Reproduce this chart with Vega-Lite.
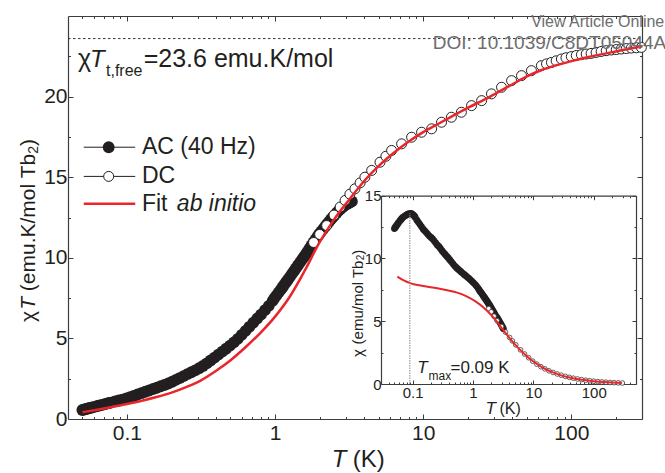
{
"$schema":"https://vega.github.io/schema/vega-lite/v6.json",
"width":574,"height":403,
"autosize":{"type":"none"},
"padding":{"left":68,"top":16,"right":23,"bottom":54},
"background":"white",
"config":{"view":{"stroke":null},"font":"Liberation Sans",
 "axis":{"grid":false,"domainColor":"#3c3c3c","tickColor":"#3c3c3c","domainWidth":1.2,"tickWidth":1,"labelColor":"#231f20","labelFont":"Liberation Sans","title":null}},
"datasets":{
"ac":[{"T":0.050,"v":0.56},{"T":0.0515,"v":0.59},{"T":0.053,"v":0.62},{"T":0.0545,"v":0.65},{"T":0.056,"v":0.68},{"T":0.0575,"v":0.71},{"T":0.059,"v":0.73},{"T":0.062,"v":0.78},{"T":0.064,"v":0.82},{"T":0.066,"v":0.85},{"T":0.068,"v":0.88},{"T":0.070,"v":0.91},{"T":0.072,"v":0.94},{"T":0.074,"v":0.97},{"T":0.076,"v":1.0},{"T":0.078,"v":1.02},{"T":0.083,"v":1.09},{"T":0.088,"v":1.15},{"T":0.093,"v":1.20},{"T":0.099,"v":1.27},{"T":0.105,"v":1.35},{"T":0.111,"v":1.43},{"T":0.118,"v":1.52},{"T":0.125,"v":1.60},{"T":0.133,"v":1.69},{"T":0.141,"v":1.77},{"T":0.150,"v":1.86},{"T":0.159,"v":1.94},{"T":0.169,"v":2.03},{"T":0.179,"v":2.11},{"T":0.190,"v":2.20},{"T":0.202,"v":2.31},{"T":0.214,"v":2.43},{"T":0.227,"v":2.54},{"T":0.241,"v":2.66},{"T":0.256,"v":2.78},{"T":0.272,"v":2.90},{"T":0.289,"v":3.02},{"T":0.307,"v":3.15},{"T":0.326,"v":3.29},{"T":0.346,"v":3.45},{"T":0.367,"v":3.63},{"T":0.390,"v":3.81},{"T":0.414,"v":3.99},{"T":0.440,"v":4.18},{"T":0.467,"v":4.36},{"T":0.496,"v":4.55},{"T":0.527,"v":4.75},{"T":0.560,"v":4.97},{"T":0.595,"v":5.22},{"T":0.632,"v":5.47},{"T":0.671,"v":5.72},{"T":0.713,"v":5.98},{"T":0.757,"v":6.23},{"T":0.804,"v":6.48},{"T":0.854,"v":6.75},{"T":0.907,"v":7.02},{"T":0.963,"v":7.33},{"T":0.99,"v":7.5},{"T":1.02,"v":7.65},{"T":1.055,"v":7.84},{"T":1.09,"v":8.01},{"T":1.12,"v":8.16},{"T":1.15,"v":8.31},{"T":1.185,"v":8.48},{"T":1.22,"v":8.64},{"T":1.26,"v":8.82},{"T":1.30,"v":9.00},{"T":1.34,"v":9.17},{"T":1.38,"v":9.34},{"T":1.425,"v":9.52},{"T":1.47,"v":9.70},{"T":1.515,"v":9.87},{"T":1.56,"v":10.04},{"T":1.605,"v":10.2},{"T":1.65,"v":10.37},{"T":1.705,"v":10.57},{"T":1.76,"v":10.77},{"T":1.815,"v":10.95},{"T":1.87,"v":11.13},{"T":1.925,"v":11.3},{"T":1.98,"v":11.46},{"T":2.045,"v":11.62},{"T":2.11,"v":11.78},{"T":2.175,"v":11.93},{"T":2.24,"v":12.08},{"T":2.31,"v":12.23},{"T":2.38,"v":12.38},{"T":2.45,"v":12.52},{"T":2.52,"v":12.65},{"T":2.6,"v":12.78},{"T":2.68,"v":12.91},{"T":2.76,"v":13.02},{"T":2.85,"v":13.13},{"T":2.93,"v":13.22},{"T":3.02,"v":13.31},{"T":3.1,"v":13.37},{"T":3.2,"v":13.43},{"T":3.3,"v":13.5}],
"dc":[{"T":1.82,"v":10.95},{"T":2.0,"v":11.45},{"T":2.23,"v":12.0},{"T":2.5,"v":12.65},{"T":2.75,"v":13.15},{"T":2.97,"v":13.56},{"T":3.2,"v":13.95},{"T":3.46,"v":14.28},{"T":3.75,"v":14.65},{"T":4.04,"v":15.0},{"T":4.49,"v":15.42},{"T":5.11,"v":15.93},{"T":5.6,"v":16.3},{"T":6.12,"v":16.66},{"T":7.15,"v":17.07},{"T":8.35,"v":17.48},{"T":9.75,"v":17.79},{"T":11.4,"v":18.0},{"T":13.3,"v":18.41},{"T":15.5,"v":18.72},{"T":18.1,"v":19.03},{"T":21.2,"v":19.44},{"T":24.8,"v":19.75},{"T":28.9,"v":20.17},{"T":33.8,"v":20.58},{"T":39.5,"v":20.99},{"T":46.1,"v":21.3},{"T":53.8,"v":21.61},{"T":62.8,"v":21.92},{"T":68,"v":22.03},{"T":73.4,"v":22.12},{"T":79,"v":22.22},{"T":85.7,"v":22.33},{"T":92,"v":22.41},{"T":100,"v":22.48},{"T":108,"v":22.55},{"T":117,"v":22.6},{"T":126,"v":22.64},{"T":136,"v":22.68},{"T":147,"v":22.74},{"T":159,"v":22.8},{"T":172,"v":22.85},{"T":186,"v":22.89},{"T":201,"v":22.92},{"T":217,"v":22.95},{"T":235,"v":22.98},{"T":254,"v":23.01},{"T":275,"v":23.03},{"T":297,"v":23.05}],
"fit":[{"T":0.0501,"v":0.42},{"T":0.0631,"v":0.58},{"T":0.0794,"v":0.75},{"T":0.1,"v":0.93},{"T":0.126,"v":1.13},{"T":0.158,"v":1.36},{"T":0.2,"v":1.64},{"T":0.251,"v":1.98},{"T":0.316,"v":2.4},{"T":0.398,"v":2.98},{"T":0.501,"v":3.65},{"T":0.631,"v":4.45},{"T":0.794,"v":5.33},{"T":1.0,"v":6.35},{"T":1.259,"v":7.6},{"T":1.585,"v":9.2},{"T":1.995,"v":10.95},{"T":2.512,"v":12.4},{"T":3.162,"v":13.6},{"T":3.981,"v":14.75},{"T":5.012,"v":15.7},{"T":6.31,"v":16.5},{"T":7.943,"v":17.2},{"T":10,"v":17.8},{"T":12.59,"v":18.3},{"T":15.85,"v":18.8},{"T":19.95,"v":19.3},{"T":25.12,"v":19.75},{"T":31.62,"v":20.25},{"T":39.81,"v":20.75},{"T":50.12,"v":21.25},{"T":63.1,"v":21.65},{"T":79.43,"v":21.95},{"T":100,"v":22.2},{"T":125.9,"v":22.42},{"T":158.5,"v":22.62},{"T":199.5,"v":22.8},{"T":251.2,"v":22.98},{"T":302,"v":23.12}],
"iac":[{"T":0.050,"v":12.38},{"T":0.0515,"v":12.47},{"T":0.053,"v":12.55},{"T":0.0545,"v":12.64},{"T":0.056,"v":12.72},{"T":0.0575,"v":12.8},{"T":0.059,"v":12.88},{"T":0.062,"v":13.01},{"T":0.064,"v":13.09},{"T":0.066,"v":13.17},{"T":0.068,"v":13.24},{"T":0.070,"v":13.30},{"T":0.074,"v":13.38},{"T":0.078,"v":13.45},{"T":0.083,"v":13.53},{"T":0.088,"v":13.58},{"T":0.093,"v":13.6},{"T":0.096,"v":13.57},{"T":0.099,"v":13.52},{"T":0.102,"v":13.48},{"T":0.105,"v":13.42},{"T":0.108,"v":13.35},{"T":0.111,"v":13.27},{"T":0.118,"v":13.05},{"T":0.125,"v":12.88},{"T":0.133,"v":12.70},{"T":0.141,"v":12.52},{"T":0.150,"v":12.33},{"T":0.159,"v":12.20},{"T":0.169,"v":12.06},{"T":0.179,"v":11.92},{"T":0.190,"v":11.79},{"T":0.202,"v":11.68},{"T":0.214,"v":11.57},{"T":0.227,"v":11.41},{"T":0.241,"v":11.25},{"T":0.256,"v":11.08},{"T":0.272,"v":10.96},{"T":0.289,"v":10.8},{"T":0.307,"v":10.62},{"T":0.326,"v":10.46},{"T":0.346,"v":10.32},{"T":0.367,"v":10.18},{"T":0.390,"v":10.04},{"T":0.414,"v":9.88},{"T":0.440,"v":9.73},{"T":0.467,"v":9.57},{"T":0.496,"v":9.42},{"T":0.527,"v":9.29},{"T":0.560,"v":9.17},{"T":0.595,"v":9.06},{"T":0.632,"v":8.95},{"T":0.671,"v":8.84},{"T":0.713,"v":8.73},{"T":0.757,"v":8.63},{"T":0.804,"v":8.52},{"T":0.854,"v":8.42},{"T":0.907,"v":8.30},{"T":0.963,"v":8.18},{"T":1.02,"v":8.06},{"T":1.09,"v":7.92},{"T":1.15,"v":7.78},{"T":1.22,"v":7.62},{"T":1.26,"v":7.5},{"T":1.30,"v":7.4},{"T":1.34,"v":7.32},{"T":1.38,"v":7.24},{"T":1.425,"v":7.14},{"T":1.47,"v":7.05},{"T":1.515,"v":6.96},{"T":1.56,"v":6.88},{"T":1.605,"v":6.79},{"T":1.65,"v":6.7},{"T":1.705,"v":6.6},{"T":1.76,"v":6.5},{"T":1.815,"v":6.4},{"T":1.87,"v":6.3},{"T":1.925,"v":6.2},{"T":1.98,"v":6.1},{"T":2.045,"v":5.99},{"T":2.11,"v":5.88},{"T":2.175,"v":5.77},{"T":2.24,"v":5.66},{"T":2.31,"v":5.54},{"T":2.38,"v":5.42},{"T":2.45,"v":5.34},{"T":2.52,"v":5.26},{"T":2.6,"v":5.16},{"T":2.68,"v":5.06},{"T":2.76,"v":4.95},{"T":2.85,"v":4.84},{"T":2.93,"v":4.73},{"T":3.02,"v":4.62},{"T":3.1,"v":4.51},{"T":3.2,"v":4.4}],
"idc":[{"T":1.82,"v":6.0},{"T":2.0,"v":5.75},{"T":2.23,"v":5.4},{"T":2.5,"v":5.05},{"T":2.97,"v":4.57},{"T":3.46,"v":4.13},{"T":4.04,"v":3.71},{"T":4.49,"v":3.43},{"T":5.11,"v":3.12},{"T":6.12,"v":2.72},{"T":7.15,"v":2.39},{"T":8.35,"v":2.09},{"T":9.75,"v":1.82},{"T":11.4,"v":1.58},{"T":13.3,"v":1.38},{"T":15.5,"v":1.21},{"T":18.1,"v":1.05},{"T":21.2,"v":0.92},{"T":24.8,"v":0.80},{"T":28.9,"v":0.70},{"T":33.8,"v":0.61},{"T":39.5,"v":0.53},{"T":46.1,"v":0.46},{"T":53.8,"v":0.40},{"T":62.8,"v":0.35},{"T":73.4,"v":0.30},{"T":85.7,"v":0.26},{"T":100,"v":0.225},{"T":117,"v":0.193},{"T":136,"v":0.167},{"T":159,"v":0.143},{"T":186,"v":0.123},{"T":217,"v":0.106},{"T":254,"v":0.091},{"T":297,"v":0.078}],
"ifit":[{"T":0.056,"v":8.55},{"T":0.07,"v":8.27},{"T":0.093,"v":8.02},{"T":0.15,"v":7.8},{"T":0.256,"v":7.63},{"T":0.375,"v":7.47},{"T":0.548,"v":7.28},{"T":0.8,"v":6.96},{"T":1.1,"v":6.58},{"T":1.51,"v":6.08},{"T":2.0,"v":5.5},{"T":2.51,"v":4.95},{"T":3.2,"v":4.27},{"T":4.17,"v":3.58},{"T":5.7,"v":2.84},{"T":7.87,"v":2.2},{"T":10,"v":1.79},{"T":14.8,"v":1.26},{"T":20,"v":0.96},{"T":27.9,"v":0.71},{"T":40,"v":0.51},{"T":52.7,"v":0.40},{"T":75,"v":0.29},{"T":99,"v":0.224},{"T":150,"v":0.15},{"T":200,"v":0.114},{"T":292,"v":0.079}]
},
"layer":[
{"data":{"name":"ac"},
 "mark":{"type":"point","shape":"circle","filled":true,"color":"#231f20","size":140,"opacity":1},
 "encoding":{
  "x":{"field":"T","type":"quantitative","scale":{"type":"log","domain":[0.04,300],"nice":false},
   "axis":{"orient":"bottom","values":[0.05,0.06,0.07,0.08,0.09,0.1,0.2,0.3,0.4,0.5,0.6,0.7,0.8,0.9,1,2,3,4,5,6,7,8,9,10,20,30,40,50,60,70,80,90,100,200],
    "labelExpr":"datum.value==0.1?'0.1':datum.value==1?'1':datum.value==10?'10':datum.value==100?'100':''",
    "tickSize":{"condition":{"test":"datum.value==0.1||datum.value==1||datum.value==10||datum.value==100","value":-5},"value":-2.5},
    "labelFontSize":21,"labelPadding":8,"labelOverlap":false,"labelFlush":false,"labelBound":false}},
  "y":{"field":"v","type":"quantitative","scale":{"domain":[0,25],"nice":false},
   "axis":{"orient":"left","values":[0,2.5,5,7.5,10,12.5,15,17.5,20,22.5],
    "labelExpr":"datum.value%5==0?datum.label:''",
    "tickSize":{"condition":{"test":"datum.value%5==0","value":-5},"value":-2.5},
    "labelFontSize":21,"labelPadding":6,"labelOverlap":false,"labelFlush":false,"labelBound":false}}}},
{"data":{"name":"dc"},
 "mark":{"type":"point","shape":"circle","filled":true,"fill":"white","stroke":"#231f20","strokeWidth":1,"size":100,"opacity":1},
 "encoding":{
  "x":{"field":"T","type":"quantitative","scale":{"type":"log","domain":[0.04,300],"nice":false},
   "axis":{"orient":"top","labels":false,"values":[0.05,0.06,0.07,0.08,0.09,0.1,0.2,0.3,0.4,0.5,0.6,0.7,0.8,0.9,1,2,3,4,5,6,7,8,9,10,20,30,40,50,60,70,80,90,100,200],
    "tickSize":{"condition":{"test":"datum.value==0.1||datum.value==1||datum.value==10||datum.value==100","value":-5},"value":-2.5}}},
  "y":{"field":"v","type":"quantitative","scale":{"domain":[0,25],"nice":false},
   "axis":{"orient":"right","labels":false,"values":[0,2.5,5,7.5,10,12.5,15,17.5,20,22.5],
    "tickSize":{"condition":{"test":"datum.value%5==0","value":-5},"value":-2.5}}}}},
{"data":{"name":"fit"},
 "mark":{"type":"line","color":"#e8262b","strokeWidth":2.5,"interpolate":"monotone"},
 "encoding":{
  "x":{"field":"T","type":"quantitative","scale":{"type":"log","domain":[0.04,300],"nice":false},"axis":null},
  "y":{"field":"v","type":"quantitative","scale":{"domain":[0,25],"nice":false},"axis":null}}},
{"data":{"values":[{"T":0.04,"v":23.6},{"T":300,"v":23.6}]},
 "mark":{"type":"line","color":"#333333","strokeWidth":1,"strokeDash":[2.5,2.5]},
 "encoding":{
  "x":{"field":"T","type":"quantitative","scale":{"type":"log","domain":[0.04,300],"nice":false},"axis":null},
  "y":{"field":"v","type":"quantitative","scale":{"domain":[0,25],"nice":false},"axis":null}}},
{"data":{"name":"iac"},
 "mark":{"type":"point","shape":"circle","filled":true,"color":"#231f20","size":45,"opacity":1},
 "encoding":{
  "x":{"field":"T","type":"quantitative","scale":{"type":"log","domain":[0.03,500],"nice":false,"range":[313,568]},
   "axis":{"orient":"bottom","offset":-35,"values":[0.04,0.05,0.06,0.07,0.08,0.09,0.1,0.2,0.3,0.4,0.5,0.6,0.7,0.8,0.9,1,2,3,4,5,6,7,8,9,10,20,30,40,50,60,70,80,90,100,200,300,400],
    "labelExpr":"datum.value==0.1?'0.1':datum.value==1?'1':datum.value==10?'10':datum.value==100?'100':''",
    "tickSize":{"condition":{"test":"datum.value==0.1||datum.value==1||datum.value==10||datum.value==100","value":-4},"value":-2},
    "labelFontSize":15,"labelPadding":5,"labelOverlap":false,"labelFlush":false,"labelBound":false}},
  "y":{"field":"v","type":"quantitative","scale":{"domain":[0,15],"nice":false,"range":[368,179.7]},
   "axis":{"orient":"left","offset":-313,"values":[0,2.5,5,7.5,10,12.5,15],
    "labelExpr":"datum.value%5==0?datum.label:''",
    "tickSize":{"condition":{"test":"datum.value%5==0","value":-4},"value":-2},
    "labelFontSize":15,"labelPadding":4,"labelOverlap":false,"labelFlush":false,"labelBound":false}}}},
{"data":{"name":"idc"},
 "mark":{"type":"point","shape":"circle","filled":true,"fill":"white","stroke":"#3a3a3a","strokeWidth":0.8,"size":22,"opacity":1},
 "encoding":{
  "x":{"field":"T","type":"quantitative","scale":{"type":"log","domain":[0.03,500],"nice":false,"range":[313,568]},
   "axis":{"orient":"top","offset":-179.7,"labels":false,"values":[0.04,0.05,0.06,0.07,0.08,0.09,0.1,0.2,0.3,0.4,0.5,0.6,0.7,0.8,0.9,1,2,3,4,5,6,7,8,9,10,20,30,40,50,60,70,80,90,100,200,300,400],
    "tickSize":{"condition":{"test":"datum.value==0.1||datum.value==1||datum.value==10||datum.value==100","value":-4},"value":-2}}},
  "y":{"field":"v","type":"quantitative","scale":{"domain":[0,15],"nice":false,"range":[368,179.7]},
   "axis":{"orient":"right","offset":-6,"labels":false,"values":[0,2.5,5,7.5,10,12.5,15],
    "tickSize":{"condition":{"test":"datum.value%5==0","value":-4},"value":-2}}}}},
{"data":{"name":"ifit"},
 "mark":{"type":"line","color":"#e8262b","strokeWidth":2,"interpolate":"monotone"},
 "encoding":{
  "x":{"field":"T","type":"quantitative","scale":{"type":"log","domain":[0.03,500],"nice":false,"range":[313,568]},"axis":null},
  "y":{"field":"v","type":"quantitative","scale":{"domain":[0,15],"nice":false,"range":[368,179.7]},"axis":null}}},
{"data":{"values":[{"T":0.09,"v":0},{"T":0.09,"v":13.6}]},
 "mark":{"type":"line","color":"#888888","strokeWidth":1,"strokeDash":[1.5,1]},
 "encoding":{
  "x":{"field":"T","type":"quantitative","scale":{"type":"log","domain":[0.03,500],"nice":false,"range":[313,568]},"axis":null},
  "y":{"field":"v","type":"quantitative","scale":{"domain":[0,15],"nice":false,"range":[368,179.7]},"axis":null}}},
{"data":{"values":[{"T":0.0511,"v":16.86,"k":"AC"},{"T":0.1137,"v":16.86,"k":"AC"},{"T":0.0511,"v":15.05,"k":"DC"},{"T":0.1137,"v":15.05,"k":"DC"}]},
 "mark":{"type":"line","color":"#231f20","strokeWidth":1},
 "encoding":{
  "detail":{"field":"k"},
  "x":{"field":"T","type":"quantitative","scale":{"type":"log","domain":[0.04,300],"nice":false},"axis":null},
  "y":{"field":"v","type":"quantitative","scale":{"domain":[0,25],"nice":false},"axis":null}}},
{"data":{"values":[{"T":0.0511,"v":13.36},{"T":0.1137,"v":13.36}]},
 "mark":{"type":"line","color":"#e8262b","strokeWidth":2.5},
 "encoding":{
  "x":{"field":"T","type":"quantitative","scale":{"type":"log","domain":[0.04,300],"nice":false},"axis":null},
  "y":{"field":"v","type":"quantitative","scale":{"domain":[0,25],"nice":false},"axis":null}}},
{"data":{"values":[{"T":0.0753,"v":16.86}]},
 "mark":{"type":"point","shape":"circle","filled":true,"color":"#231f20","size":140,"opacity":1},
 "encoding":{
  "x":{"field":"T","type":"quantitative","scale":{"type":"log","domain":[0.04,300],"nice":false},"axis":null},
  "y":{"field":"v","type":"quantitative","scale":{"domain":[0,25],"nice":false},"axis":null}}},
{"data":{"values":[{"T":0.0753,"v":15.05}]},
 "mark":{"type":"point","shape":"circle","filled":true,"fill":"white","stroke":"#231f20","strokeWidth":1,"size":100,"opacity":1},
 "encoding":{
  "x":{"field":"T","type":"quantitative","scale":{"type":"log","domain":[0.04,300],"nice":false},"axis":null},
  "y":{"field":"v","type":"quantitative","scale":{"domain":[0,25],"nice":false},"axis":null}}},
{"data":{"values":[{"T":0.0468,"v":21.81,"t":"χ"},{"T":0.1297,"v":21.81,"t":"=23.6 emu.K/mol"}]},
 "mark":{"type":"text","align":"left","baseline":"alphabetic","fontSize":25,"color":"#231f20"},
 "encoding":{"text":{"field":"t"},
  "x":{"field":"T","type":"quantitative","scale":{"type":"log","domain":[0.04,300],"nice":false},"axis":null},
  "y":{"field":"v","type":"quantitative","scale":{"domain":[0,25],"nice":false},"axis":null}}},
{"data":{"values":[{"T":3.34,"v":-2.95,"t":"(K)"}]},
 "mark":{"type":"text","align":"left","baseline":"alphabetic","fontSize":24,"color":"#231f20"},
 "encoding":{"text":{"field":"t"},
  "x":{"field":"T","type":"quantitative","scale":{"type":"log","domain":[0.04,300],"nice":false},"axis":null},
  "y":{"field":"v","type":"quantitative","scale":{"domain":[0,25],"nice":false},"axis":null}}},
{"data":{"values":[{"T":0.0563,"v":21.81,"t":"T"},{"T":2.41,"v":-2.95,"t":"T"}]},
 "mark":{"type":"text","align":"left","baseline":"alphabetic","fontSize":24,"fontStyle":"italic","color":"#231f20"},
 "encoding":{"text":{"field":"t"},
  "x":{"field":"T","type":"quantitative","scale":{"type":"log","domain":[0.04,300],"nice":false},"axis":null},
  "y":{"field":"v","type":"quantitative","scale":{"domain":[0,25],"nice":false},"axis":null}}},
{"data":{"values":[{"T":0.0722,"v":21.3,"t":"t,free"}]},
 "mark":{"type":"text","align":"left","baseline":"alphabetic","fontSize":16,"color":"#231f20"},
 "encoding":{"text":{"field":"t"},
  "x":{"field":"T","type":"quantitative","scale":{"type":"log","domain":[0.04,300],"nice":false},"axis":null},
  "y":{"field":"v","type":"quantitative","scale":{"domain":[0,25],"nice":false},"axis":null}}},
{"data":{"values":[{"T":0.1262,"v":16.86,"t":"AC (40 Hz)"},{"T":0.1262,"v":15.05,"t":"DC"},{"T":0.1262,"v":13.36,"t":"Fit"}]},
 "mark":{"type":"text","align":"left","baseline":"middle","fontSize":23,"color":"#231f20"},
 "encoding":{"text":{"field":"t"},
  "x":{"field":"T","type":"quantitative","scale":{"type":"log","domain":[0.04,300],"nice":false},"axis":null},
  "y":{"field":"v","type":"quantitative","scale":{"domain":[0,25],"nice":false},"axis":null}}},
{"data":{"values":[{"T":0.2173,"v":13.36,"t":"ab initio"}]},
 "mark":{"type":"text","align":"left","baseline":"middle","fontSize":23,"fontStyle":"italic","color":"#231f20"},
 "encoding":{"text":{"field":"t"},
  "x":{"field":"T","type":"quantitative","scale":{"type":"log","domain":[0.04,300],"nice":false},"axis":null},
  "y":{"field":"v","type":"quantitative","scale":{"domain":[0,25],"nice":false},"axis":null}}},
{"data":{"values":[{"T":0.02183,"v":6.01,"t":"χ"},{"T":0.02183,"v":7.93,"t":"(emu.K/mol Tb"},{"T":0.02183,"v":16.94,"t":")"}]},
 "mark":{"type":"text","align":"left","baseline":"middle","angle":270,"fontSize":21,"color":"#231f20"},
 "encoding":{"text":{"field":"t"},
  "x":{"field":"T","type":"quantitative","scale":{"type":"log","domain":[0.04,300],"nice":false},"axis":null},
  "y":{"field":"v","type":"quantitative","scale":{"domain":[0,25],"nice":false},"axis":null}}},
{"data":{"values":[{"T":0.02183,"v":6.78,"t":"T"}]},
 "mark":{"type":"text","align":"left","baseline":"middle","angle":270,"fontSize":21,"fontStyle":"italic","color":"#231f20"},
 "encoding":{"text":{"field":"t"},
  "x":{"field":"T","type":"quantitative","scale":{"type":"log","domain":[0.04,300],"nice":false},"axis":null},
  "y":{"field":"v","type":"quantitative","scale":{"domain":[0,25],"nice":false},"axis":null}}},
{"data":{"values":[{"T":0.0236,"v":16.46,"t":"2"}]},
 "mark":{"type":"text","align":"left","baseline":"middle","angle":270,"fontSize":14,"color":"#231f20"},
 "encoding":{"text":{"field":"t"},
  "x":{"field":"T","type":"quantitative","scale":{"type":"log","domain":[0.04,300],"nice":false},"axis":null},
  "y":{"field":"v","type":"quantitative","scale":{"domain":[0,25],"nice":false},"axis":null}}},
{"data":{"values":[{"T":424,"v":24.29,"t":"View Article Online"}]},
 "mark":{"type":"text","align":"right","baseline":"alphabetic","fontSize":16,"color":"#6d6e70"},
 "encoding":{"text":{"field":"t"},
  "x":{"field":"T","type":"quantitative","scale":{"type":"log","domain":[0.04,300],"nice":false},"axis":null},
  "y":{"field":"v","type":"quantitative","scale":{"domain":[0,25],"nice":false},"axis":null}}},
{"data":{"values":[{"T":437,"v":22.95,"t":"DOI: 10.1039/C8DT05044A"}]},
 "mark":{"type":"text","align":"right","baseline":"alphabetic","fontSize":19,"color":"#6d6e70"},
 "encoding":{"text":{"field":"t"},
  "x":{"field":"T","type":"quantitative","scale":{"type":"log","domain":[0.04,300],"nice":false},"axis":null},
  "y":{"field":"v","type":"quantitative","scale":{"domain":[0,25],"nice":false},"axis":null}}},
{"data":{"values":[{"T":0.01258,"v":2.15,"t":"χ"},{"T":0.01258,"v":3.15,"t":"(emu/mol Tb"},{"T":0.01258,"v":10.3,"t":")"}]},
 "mark":{"type":"text","align":"left","baseline":"middle","angle":270,"fontSize":15,"color":"#231f20"},
 "encoding":{"text":{"field":"t"},
  "x":{"field":"T","type":"quantitative","scale":{"type":"log","domain":[0.03,500],"nice":false,"range":[313,568]},"axis":null},
  "y":{"field":"v","type":"quantitative","scale":{"domain":[0,15],"nice":false,"range":[368,179.7]},"axis":null}}},
{"data":{"values":[{"T":0.0141,"v":9.86,"t":"2"}]},
 "mark":{"type":"text","align":"left","baseline":"middle","angle":270,"fontSize":10,"color":"#231f20"},
 "encoding":{"text":{"field":"t"},
  "x":{"field":"T","type":"quantitative","scale":{"type":"log","domain":[0.03,500],"nice":false,"range":[313,568]},"axis":null},
  "y":{"field":"v","type":"quantitative","scale":{"domain":[0,15],"nice":false,"range":[368,179.7]},"axis":null}}},
{"data":{"values":[{"T":0.1197,"v":0.9,"t":"T"},{"T":1.61,"v":-2.39,"t":"T"}]},
 "mark":{"type":"text","align":"left","baseline":"alphabetic","fontSize":17,"fontStyle":"italic","color":"#231f20"},
 "encoding":{"text":{"field":"t"},
  "x":{"field":"T","type":"quantitative","scale":{"type":"log","domain":[0.03,500],"nice":false,"range":[313,568]},"axis":null},
  "y":{"field":"v","type":"quantitative","scale":{"domain":[0,15],"nice":false,"range":[368,179.7]},"axis":null}}},
{"data":{"values":[{"T":0.4246,"v":0.9,"t":"=0.09 K"}]},
 "mark":{"type":"text","align":"left","baseline":"alphabetic","fontSize":17,"color":"#231f20"},
 "encoding":{"text":{"field":"t"},
  "x":{"field":"T","type":"quantitative","scale":{"type":"log","domain":[0.03,500],"nice":false,"range":[313,568]},"axis":null},
  "y":{"field":"v","type":"quantitative","scale":{"domain":[0,15],"nice":false,"range":[368,179.7]},"axis":null}}},
{"data":{"values":[{"T":0.1837,"v":0.32,"t":"max"}]},
 "mark":{"type":"text","align":"left","baseline":"alphabetic","fontSize":12,"color":"#231f20"},
 "encoding":{"text":{"field":"t"},
  "x":{"field":"T","type":"quantitative","scale":{"type":"log","domain":[0.03,500],"nice":false,"range":[313,568]},"axis":null},
  "y":{"field":"v","type":"quantitative","scale":{"domain":[0,15],"nice":false,"range":[368,179.7]},"axis":null}}},
{"data":{"values":[{"T":2.74,"v":-2.39,"t":"(K)"}]},
 "mark":{"type":"text","align":"left","baseline":"alphabetic","fontSize":16,"color":"#231f20"},
 "encoding":{"text":{"field":"t"},
  "x":{"field":"T","type":"quantitative","scale":{"type":"log","domain":[0.03,500],"nice":false,"range":[313,568]},"axis":null},
  "y":{"field":"v","type":"quantitative","scale":{"domain":[0,15],"nice":false,"range":[368,179.7]},"axis":null}}}
],
"resolve":{"scale":{"x":"independent","y":"independent"},"axis":{"x":"independent","y":"independent"}}
}
